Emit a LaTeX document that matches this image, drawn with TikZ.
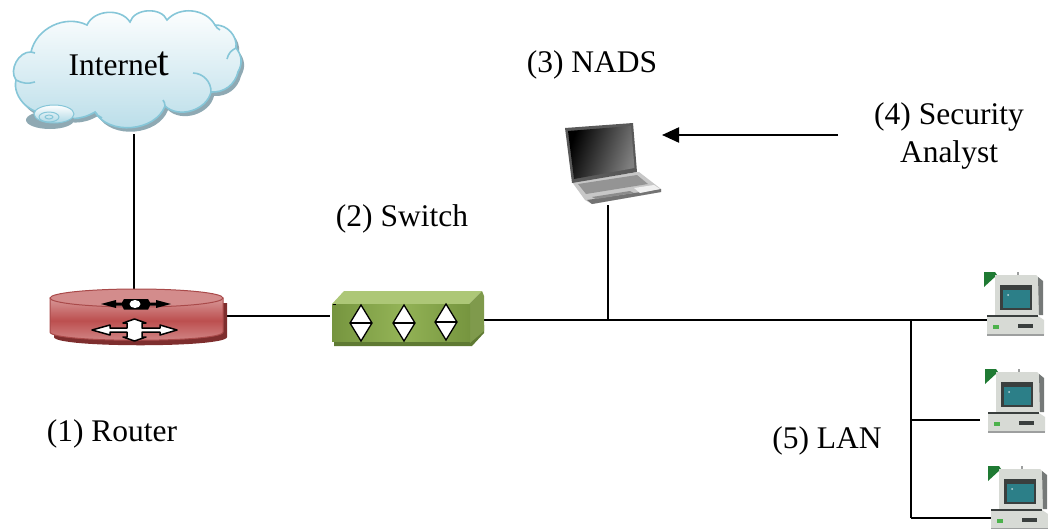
\documentclass[tikz,border=0pt]{standalone}
\usepackage{fontspec}
\setmainfont{Liberation Serif}
\usetikzlibrary{arrows.meta,calc}
\definecolor{cloudline}{HTML}{86C6D8}
\definecolor{cloudshadow}{HTML}{8FA9B3}
\definecolor{cloudlow}{HTML}{B7DCE8}
\definecolor{routertop}{HTML}{D38C8C}
\definecolor{routermid}{HTML}{BC4F4F}
\definecolor{routerline}{HTML}{A94A4A}
\definecolor{routershadow}{HTML}{7E2E2E}
\definecolor{swfront}{HTML}{93B356}
\definecolor{swedge}{HTML}{76953F}
\definecolor{swtop}{HTML}{ADC777}
\definecolor{swside}{HTML}{7F9A4C}
\definecolor{swshadow}{HTML}{5F7A33}
\definecolor{pcbody}{HTML}{D7DAD5}
\definecolor{pcdark}{HTML}{3A3F3E}
\definecolor{pcscreen}{HTML}{2C7F88}
\definecolor{pcgreen}{HTML}{1F7A33}
\tikzset{
  x=1pt,y=-1pt,
  label text/.style={font=\fontsize{31.5}{38}\selectfont,inner sep=0pt,align=center},
  wire/.style={line width=2.2pt,black},
  sw diamond/.style={draw=black,line width=1.3pt,fill=white},
  pc/.pic={
    \fill[pcgreen] (0,0) -- (11,0) -- (13,3) -- (0,15) -- cycle;
    \fill[pcbody] (11,3) -- (52,3) -- (55,6) -- (55,43) -- (11,43) -- cycle;
    \fill[pcdark!70] (54,5) -- (59,9) -- (59,43) -- (55,43) -- cycle;
    \fill[pcdark!50] (33,0) rectangle (35,3);
    \fill[pcdark] (16,13) rectangle (48,38);
    \fill[pcscreen] (19,18) rectangle (46,36);
    \fill[white!70!pcscreen] (24,23) circle (1);
    \fill[pcbody] (3,44) -- (54,44) -- (60,48) -- (60,63) -- (3,63) -- cycle;
    \fill[pcdark] (3,43) rectangle (54,45);
    \fill[pcdark!50] (3,62) rectangle (60,64);
    \fill[pcdark] (34,52) rectangle (49,56);
    \fill[green!40!gray] (9,53) rectangle (15,57);
  }
}
\newcommand{\cloudpath}{(31,52) to[bend left=52] (87,25) to[bend left=62] (130,22) to[bend left=70] (167,20)
  to[bend left=55] (215,25) to[bend left=50] (236,48) to[bend left=35] (238,72) to[bend left=40] (211,92)
  to[bend left=60] (165,106) to[bend left=65] (95,112) to[bend left=30] (50,112) to[bend left=60] (16,80)
  to[bend left=65] (31,52) -- cycle}
\begin{document}
\begin{tikzpicture}
\useasboundingbox (0,0) rectangle (1048,528);
% anchors for connectors
\coordinate (cloudS) at (134,134);
\coordinate (routerN) at (134,292);
\coordinate (routerE) at (223,316);
\coordinate (switchW) at (330,316);
\coordinate (switchE) at (484,320);
\coordinate (laptopS) at (608,205);
\coordinate (laptopE) at (662,135);
\coordinate (analyst) at (838,135);
\coordinate (tapA) at (608,320);
\coordinate (tapB) at (911,320);
\coordinate (tapC) at (911,420);
\coordinate (tapD) at (911,518);
\coordinate (pcA) at (987,320);
\coordinate (pcB) at (980,420);
\coordinate (pcC) at (995,518);

% connectors
\draw[wire] (cloudS) -- (routerN);
\draw[wire] (routerE) -- (switchW);
\draw[wire] (switchE) -- (pcA);
\draw[wire] (laptopS) -- (tapA);
\draw[wire] (tapB) -- (tapD);
\draw[wire] (tapC) -- (pcB);
\draw[wire] (tapD) -- (pcC);
\draw[wire,-{Triangle[length=17pt,width=15pt]}] (analyst) -- (laptopE);

% cloud
\fill[cloudshadow] [shift={(3,4)}] \cloudpath;
\shade[top color=white,bottom color=cloudlow,draw=cloudline,line width=1.6pt] \cloudpath;
\draw[cloudline,line width=1.6pt]
  (31,52) to[bend left=20] (35,53)
  (16,80) to[bend right=22] (35,82)
  (193,73) to[bend left=45] (211,92)
  (227,59) to[bend left=25] (236,48)
  (215,25) to[bend right=15] (220,30)
  (95,112) to[bend right=15] (102,118)
  (165,106) to[bend right=15] (163,100);
\fill[cloudshadow] (50,120) ellipse (24 and 9);
\shade[top color=white,bottom color=cloudlow!80!cloudline,draw=cloudline,line width=1pt] (54,114) ellipse (20 and 9);
\draw[cloudline,line width=1pt] (49,117) ellipse (10 and 5) (49,117) ellipse (4 and 2);
\node[label text] (internet) at (119,64) {Interne\fontsize{42}{42}\selectfont t};

% router
\fill[routershadow] (54,303) -- (227,303) -- (227,337) .. controls (227,348) and (54,348) .. (54,337) -- cycle;
\shade[top color=routertop!90!white,bottom color=routertop,middle color=routermid,draw=routerline,line width=1pt]
  (50,298) -- (50,332) .. controls (50,343) and (223,343) .. (223,332) -- (223,298) -- cycle;
\fill[routertop,draw=routerline,line width=1pt] (136.5,298) ellipse (86.5 and 9);
% router arrows, upper
\fill[black] (101,304) -- (116,300) -- (116,302.5) -- (122,302.5) -- (124,299) -- (148,299) -- (150,302.5) -- (156,302.5) -- (156,300) -- (171,304) -- (156,308) -- (156,305.5) -- (150,305.5) -- (148,309.5) -- (124,309.5) -- (122,305.5) -- (116,305.5) -- (116,308) -- cycle;
\fill[white] (135,304) ellipse (5.5 and 4);
% router arrows, lower
\draw[black,fill=white,line width=1.5pt,line join=round] (92,330) -- (110,325) -- (110,328) -- (127,328) -- (127,323) -- (123,323) -- (134.5,319) -- (146,323) -- (142,323) -- (142,328) -- (160,328) -- (160,325) -- (177,330) -- (160,335) -- (160,332) -- (142,332) -- (142,337) -- (146,337) -- (134.5,341) -- (123,337) -- (127,337) -- (127,332) -- (110,332) -- (110,335) -- cycle;

% switch
\fill[swshadow] (334,341) -- (334,346) -- (472,346) -- (484,333) -- (484,325) -- cycle;
\fill[swtop] (332,304) -- (344,291) -- (482,291) -- (469,304) -- cycle;
\fill[swside] (469,304) -- (482,291) -- (484,296) -- (484,331) -- (470,343) -- cycle;
\shade[left color=swedge,right color=swedge,middle color=swfront] (332,304) rectangle (470,341);
\draw[black,line width=1pt] (333,304.5) -- (336,304.5);
\foreach \n/\cx/\cy in {a/361/323,b/404/323,c/446/322}{
  \draw[sw diamond] (\cx-11,\cy) -- (\cx,\cy-18) -- (\cx+11,\cy) -- (\cx,\cy+18) -- cycle;
  \draw[black,line width=1.3pt] (\cx-11,\cy) -- (\cx+11,\cy);
}

% laptop
\fill[black!22] (572,182) -- (639,172) -- (661,189) -- (661,192) -- (592,204) -- (585,200) -- cycle;
\fill[black!55] (587,200) -- (661,189) -- (661,192) -- (592,204) -- cycle;
\fill[black!42] (578,184) -- (637,175) -- (648,184) -- (586,194) -- cycle;
\fill[black!45] (592,197) -- (630,191) -- (634,193) -- (596,199) -- cycle;
\fill[black!6] (634,188) -- (654,185) -- (660,189) -- (640,193) -- cycle;
\fill[black!65] (565,128) -- (633,123) -- (637,172) -- (572,183) -- cycle;
\shade[left color=black,right color=black!50,shading angle=70] (568,131) -- (631,126) -- (634.5,168) -- (574,179) -- cycle;

% computers
\pic at (984,272) {pc};
\pic at (985,369) {pc};
\pic at (988,466) {pc};

% labels
\node[label text] (lblrouter) at (112,434) {(1) Router};
\node[label text] (lblswitch) at (402,219) {(2) Switch};
\node[label text] (lblnads) at (592,65) {(3) NADS};
\node[label text] (lblanalyst) at (949,136) {(4) Security\\Analyst};
\node[label text] (lbllan) at (827,441) {(5) LAN};
\end{tikzpicture}
\end{document}
